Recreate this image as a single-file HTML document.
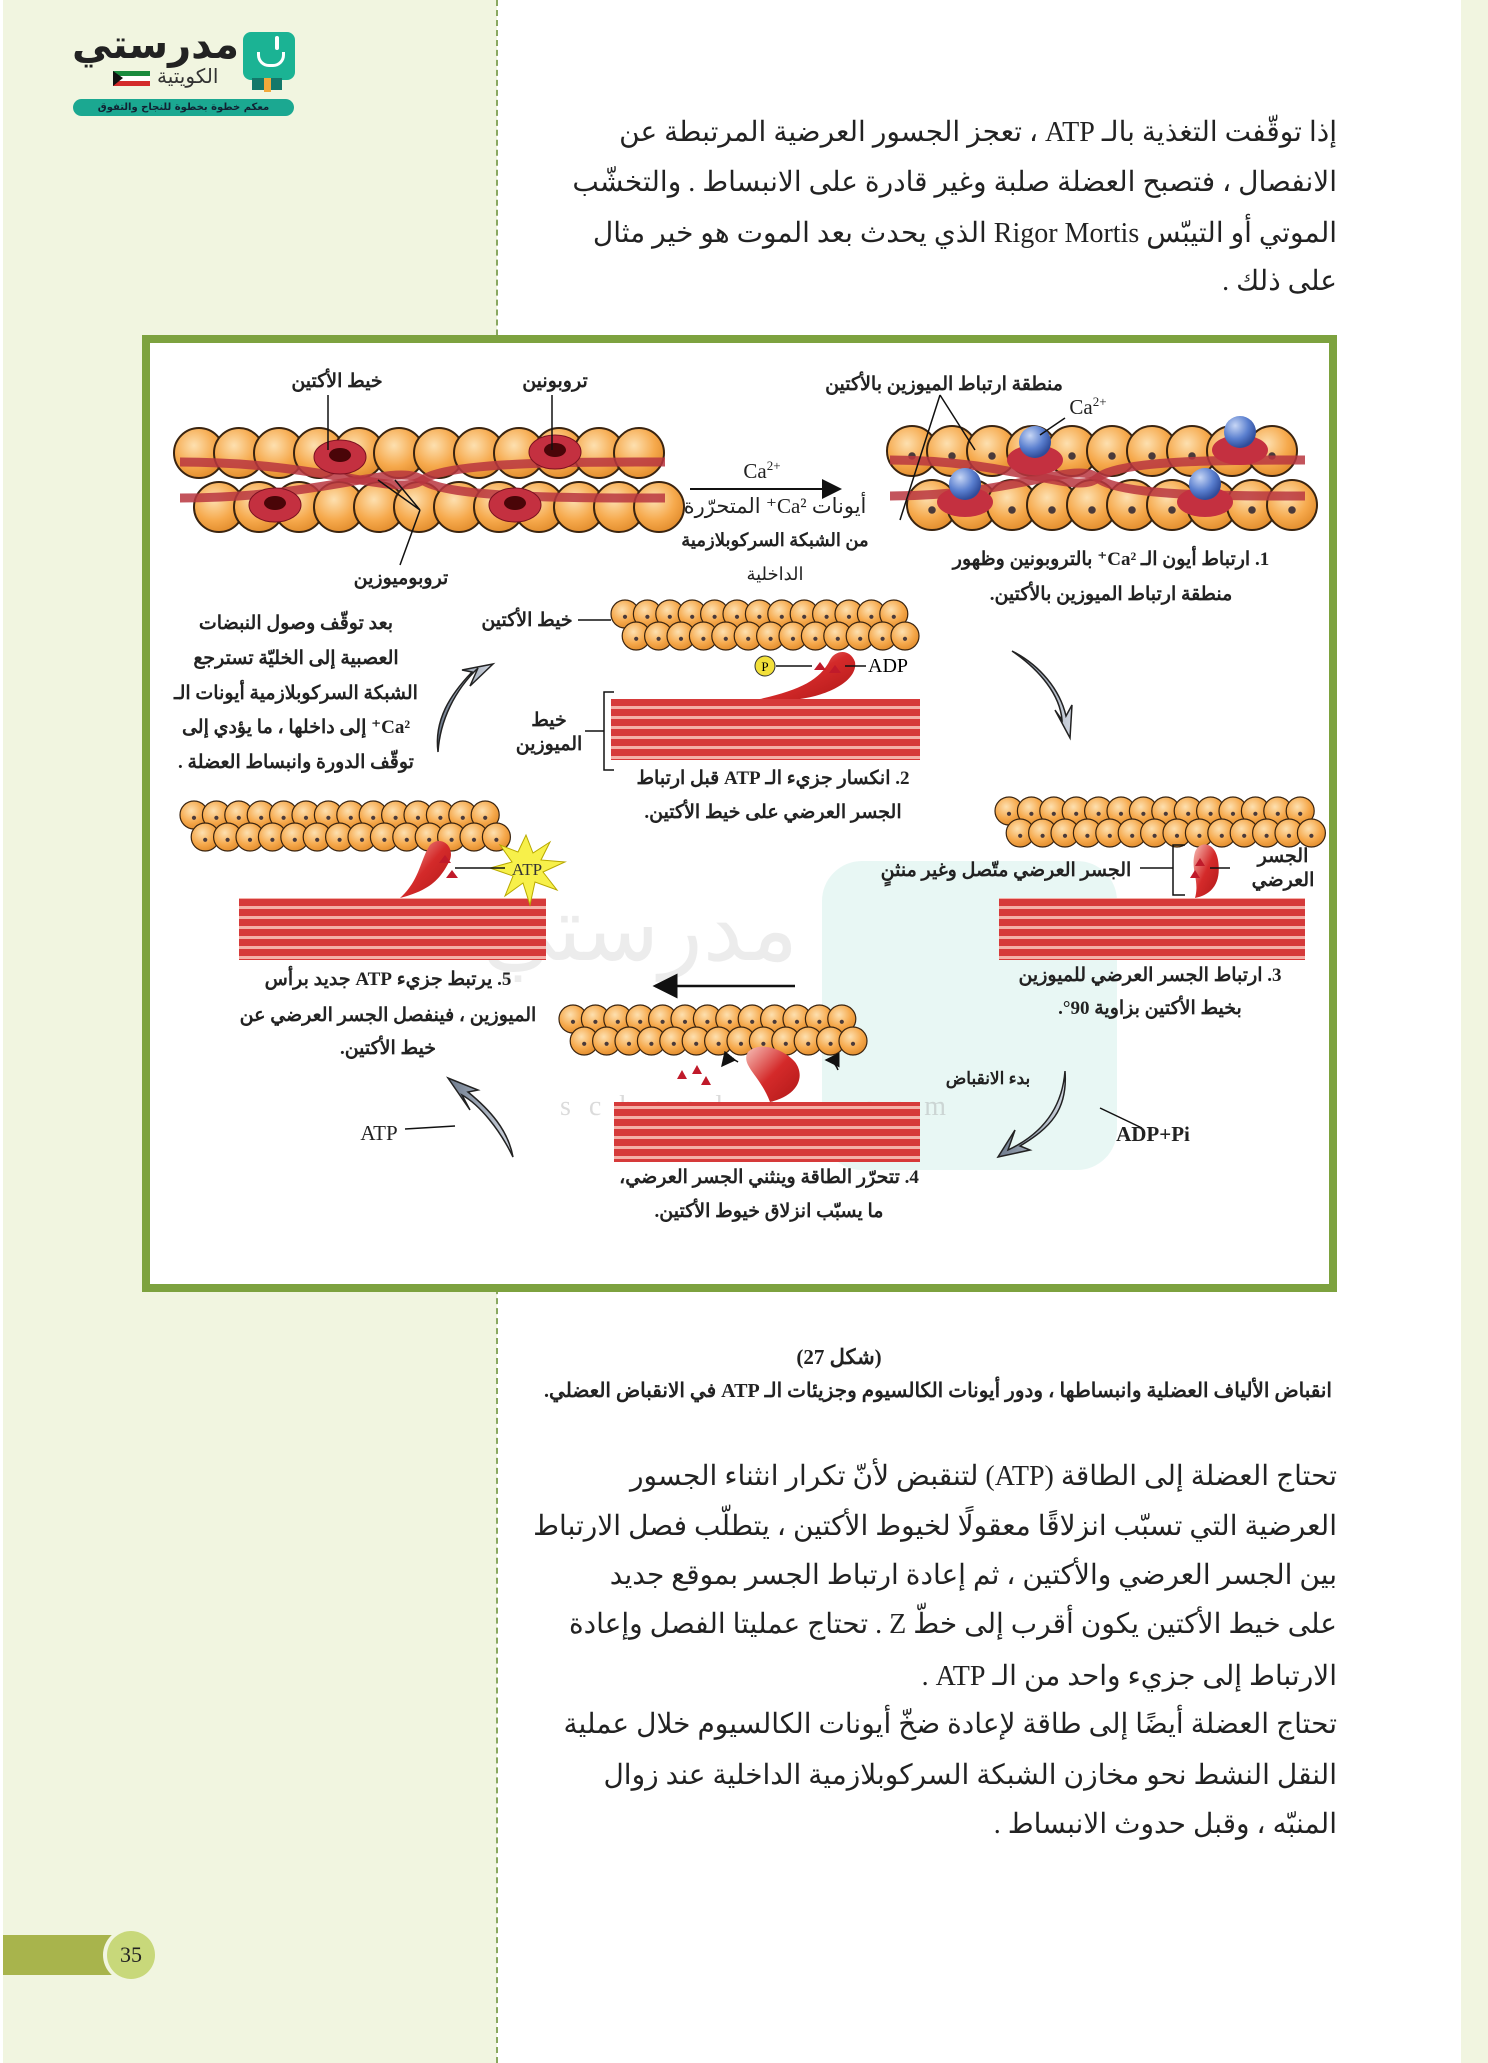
<!DOCTYPE html>
<html><head><meta charset="utf-8">
<style>
html,body{margin:0;padding:0}
body{width:1488px;height:2063px;position:relative;background:#fff;overflow:hidden;font-family:"Liberation Serif","Noto Serif CJK SC","DejaVu Serif",serif}
.t{position:absolute;direction:rtl;white-space:nowrap;color:#222}
.p{font-size:28px;right:151px}
svg text{font-family:"Liberation Serif","DejaVu Serif",serif}
</style></head><body>
<div style="position:absolute;left:3px;top:0;width:494px;height:2063px;background:#f1f5e0"></div>
<div style="position:absolute;left:496px;top:0;height:2063px;border-left:2px dashed #8aa860"></div>
<div style="position:absolute;left:1461px;top:0;width:27px;height:2063px;background:#f1f5e0"></div>

<!-- logo -->
<div style="position:absolute;left:243px;top:32px;width:52px;height:48px;background:#1bb394;border-radius:8px"></div>
<div style="position:absolute;left:252px;top:78px;width:30px;height:12px;background:#14786a"></div>
<div style="position:absolute;left:264px;top:78px;width:7px;height:14px;background:#f2a93b"></div>
<div style="position:absolute;left:275px;top:36px;width:4px;height:14px;background:#fff;border-radius:2px"></div>
<div style="position:absolute;left:257px;top:52px;width:22px;height:12px;border:3px solid #fff;border-top:none;border-radius:0 0 12px 12px"></div>
<div class="t" style="left:72px;top:22px;font:bold 40px 'DejaVu Sans',sans-serif;color:#222">مدرستي</div>
<div class="t" style="left:157px;top:64px;font:20px 'DejaVu Sans',sans-serif;color:#333">الكويتية</div>
<div style="position:absolute;left:113px;top:71px;width:37px;height:5px;background:#1a8a3e"></div>
<div style="position:absolute;left:113px;top:76px;width:37px;height:5px;background:#fff"></div>
<div style="position:absolute;left:113px;top:81px;width:37px;height:5px;background:#d32b2b"></div>
<div style="position:absolute;left:113px;top:71px;width:0;height:0;border-left:10px solid #111;border-top:7px solid transparent;border-bottom:8px solid transparent"></div>
<div style="position:absolute;left:73px;top:99px;width:221px;height:17px;background:#1ba891;border-radius:9px;font:bold 10px 'DejaVu Sans',sans-serif;color:#123;text-align:center;line-height:17px;direction:rtl">معكم خطوة بخطوة للنجاح والتفوق</div>

<!-- top paragraph -->
<div class="t p" style="top:115px">إذا توقّفت التغذية بالـ ATP ، تعجز الجسور العرضية المرتبطة عن</div>
<div class="t p" style="top:165px">الانفصال ، فتصبح العضلة صلبة وغير قادرة على الانبساط . والتخشّب</div>
<div class="t p" style="top:216px">الموتي أو التيبّس Rigor Mortis الذي يحدث بعد الموت هو خير مثال</div>
<div class="t p" style="top:264px">على ذلك .</div>

<!-- figure box -->
<div style="position:absolute;left:142px;top:335px;width:1179px;height:941px;border:8px solid #7da23f;background:#fff"></div>

<svg style="position:absolute;left:0;top:0" width="1488" height="2063" viewBox="0 0 1488 2063">
<defs>
<radialGradient id="og" cx="0.4" cy="0.35" r="0.7"><stop offset="0" stop-color="#fde0b0"/><stop offset="0.6" stop-color="#f6a94c"/><stop offset="1" stop-color="#e08a2a"/></radialGradient>
<radialGradient id="bg" cx="0.35" cy="0.3" r="0.7"><stop offset="0" stop-color="#c7d6f5"/><stop offset="0.6" stop-color="#5a7fcf"/><stop offset="1" stop-color="#2f4c9a"/></radialGradient>
<pattern id="my" width="10" height="10" patternUnits="userSpaceOnUse"><rect width="10" height="10" fill="#d63a3a"/><rect y="6" width="10" height="3" fill="#f4b0a8"/></pattern>
<linearGradient id="rh" x1="0" y1="0" x2="1" y2="1"><stop offset="0" stop-color="#f7c0b8"/><stop offset="0.5" stop-color="#d42a2a"/><stop offset="1" stop-color="#b01818"/></linearGradient>
<linearGradient id="ga" x1="0" y1="0" x2="1" y2="0"><stop offset="0" stop-color="#6d7a8c"/><stop offset="1" stop-color="#d0d6e0"/></linearGradient>
<marker id="ah" markerWidth="10" markerHeight="10" refX="9" refY="5" orient="auto"><path d="M0,0 L10,5 L0,10 z" fill="#111"/></marker>
</defs>

<!-- watermark -->
<rect x="822" y="861" width="295" height="309" rx="40" fill="#1bb394" opacity="0.1"/>
<text x="640" y="960" font-size="90" fill="#888" opacity="0.15" text-anchor="middle" font-family="DejaVu Sans" direction="rtl">مدرستي</text>
<text x="560" y="1115" font-size="28" fill="#999" opacity="0.35" letter-spacing="18" font-family="DejaVu Sans">school-kw.com</text>

<g id="fil"></g>

<!-- myosin blocks -->
<rect x="611" y="699" width="309" height="61" fill="url(#my)"/>
<rect x="999" y="898" width="306" height="62" fill="url(#my)"/>
<rect x="239" y="898" width="307" height="62" fill="url(#my)"/>
<rect x="614" y="1102" width="306" height="60" fill="url(#my)"/>
<!-- heads -->
<path d="M760,699 C800,690 820,680 830,660 C835,650 850,648 855,662 C858,680 830,695 800,699 z" fill="url(#rh)"/>
<path d="M1195,898 C1210,895 1222,885 1218,860 C1215,842 1200,840 1195,852 C1190,870 1200,880 1195,898 z" fill="url(#rh)"/>
<path d="M400,898 C430,890 440,880 450,860 C455,845 440,835 430,845 C420,860 420,880 400,898 z" fill="url(#rh)"/>
<path d="M770,1102 C800,1095 805,1075 795,1062 C785,1050 760,1040 748,1052 C740,1065 760,1075 770,1102 z" fill="url(#rh)"/>
<g fill="#c01a2a">
<path d="M820,662 l6,8 h-12z"/><path d="M835,665 l6,8 h-12z"/>
<path d="M1200,858 l5,8 h-10z"/><path d="M1195,870 l5,8 h-10z"/>
<path d="M445,855 l6,8 h-12z"/><path d="M452,870 l6,8 h-12z"/>
<path d="M682,1070 l5,9 h-10z"/><path d="M697,1065 l5,9 h-10z"/><path d="M706,1076 l5,9 h-10z"/>
</g>
<!-- ATP star -->
<polygon points="526,835 533,853 550,842 541,860 565,862 543,872 557,890 535,882 530,905 523,883 505,896 513,876 490,868 512,862 500,845 518,852" fill="#f7f04a" stroke="#b8a800" stroke-width="1"/>
<text x="527" y="875" font-size="17" text-anchor="middle" fill="#333">ATP</text>
<line x1="455" y1="868" x2="505" y2="868" stroke="#111" stroke-width="1.5"/>
<!-- P and ADP -->
<circle cx="765" cy="666" r="10" fill="#f2e03a" stroke="#333"/><text x="765" y="671" font-size="13" text-anchor="middle">P</text>
<line x1="776" y1="666" x2="812" y2="666" stroke="#111" stroke-width="1.5"/>
<line x1="845" y1="666" x2="866" y2="666" stroke="#111" stroke-width="1.5"/>
<text x="868" y="672" font-size="20">ADP</text>

<!-- brackets -->
<path d="M614,692 h-10 v78 h10" fill="none" stroke="#111" stroke-width="1.5"/>
<line x1="585" y1="731" x2="604" y2="731" stroke="#111" stroke-width="1.5"/>
<line x1="578" y1="620" x2="611" y2="620" stroke="#111" stroke-width="1.5"/>
<path d="M1185,845 h-12 v50 h12" fill="none" stroke="#111" stroke-width="1.5"/>
<line x1="1140" y1="868" x2="1173" y2="868" stroke="#111" stroke-width="1.5"/>
<line x1="1210" y1="868" x2="1230" y2="868" stroke="#111" stroke-width="1.5"/>

<!-- top straight lines -->
<line x1="328" y1="395" x2="328" y2="450" stroke="#111" stroke-width="1.5"/>
<line x1="552" y1="395" x2="552" y2="450" stroke="#111" stroke-width="1.5"/>
<path d="M400,565 L420,510 M420,510 L378,480 M420,510 L395,480" stroke="#111" stroke-width="1.5" fill="none"/>
<path d="M940,395 L900,520 M940,395 L975,450" stroke="#111" stroke-width="1.5" fill="none"/>
<line x1="1040" y1="435" x2="1065" y2="418" stroke="#111" stroke-width="1.5"/>

<!-- Ca arrow -->
<line x1="690" y1="489" x2="840" y2="489" stroke="#111" stroke-width="2" marker-end="url(#ah)"/>
<!-- left arrow middle -->
<line x1="795" y1="986" x2="655" y2="986" stroke="#111" stroke-width="2.5" marker-end="url(#ah)"/>

<!-- curved grey arrows -->
<path d="M438,752 C440,720 455,690 478,668 L470,686 L493,664 L462,670 L472,672 C450,695 434,720 438,752 z" fill="url(#ga)" stroke="#222" stroke-width="1.5"/>
<path d="M1012,651 C1040,670 1060,695 1062,720 L1055,710 L1070,738 L1072,705 L1066,716 C1060,690 1040,665 1012,651 z" fill="url(#ga)" stroke="#222" stroke-width="1.5"/>
<path d="M1065,1071 C1062,1110 1040,1135 1008,1150 L1015,1130 L998,1157 L1030,1150 L1020,1146 C1050,1128 1068,1110 1065,1071 z" fill="url(#ga)" stroke="#222" stroke-width="1.5"/>
<path d="M513,1157 C500,1130 480,1105 462,1095 L470,1110 L448,1078 L478,1090 L468,1092 C490,1110 508,1130 513,1157 z" fill="url(#ga)" stroke="#222" stroke-width="1.5"/>
<line x1="405" y1="1129" x2="455" y2="1126" stroke="#111" stroke-width="1.5"/>
<line x1="1100" y1="1108" x2="1142" y2="1128" stroke="#111" stroke-width="1.5"/>
<path d="M738,1062 q-8,-6 -16,4" fill="none" stroke="#111" stroke-width="1.5" marker-end="url(#ah)"/>
<path d="M838,1070 q-4,-10 -12,-10" fill="none" stroke="#111" stroke-width="1.5" marker-end="url(#ah)"/>

<!-- labels -->
<g font-size="19" font-weight="bold" text-anchor="middle" fill="#222" direction="rtl">
<text x="337" y="387">خيط الأكتين</text>
<text x="555" y="387">تروبونين</text>
<text x="401" y="584">تروبوميوزين</text>
<text x="944" y="390">منطقة ارتباط الميوزين بالأكتين</text>
<text x="1111" y="565">1. ارتباط أيون الـ Ca²⁺ بالتروبونين وظهور</text>
<text x="1111" y="600">منطقة ارتباط الميوزين بالأكتين.</text>
<text x="527" y="626">خيط الأكتين</text>
<text x="549" y="726">خيط</text>
<text x="549" y="750">الميوزين</text>
<text x="773" y="784">2. انكسار جزيء الـ ATP قبل ارتباط</text>
<text x="773" y="818">الجسر العرضي على خيط الأكتين.</text>
<text x="296" y="629">بعد توقّف وصول النبضات</text>
<text x="296" y="664">العصبية إلى الخليّة تسترجع</text>
<text x="296" y="699">الشبكة السركوبلازمية أيونات الـ</text>
<text x="296" y="733">Ca²⁺ إلى داخلها ، ما يؤدي إلى</text>
<text x="296" y="768">توقّف الدورة وانبساط العضلة .</text>
<text x="1006" y="876">الجسر العرضي متّصل وغير منثنٍ</text>
<text x="1283" y="862">الجسر</text>
<text x="1283" y="886">العرضي</text>
<text x="1150" y="981">3. ارتباط الجسر العرضي للميوزين</text>
<text x="1150" y="1014">بخيط الأكتين بزاوية 90°.</text>
<text x="388" y="985">5. يرتبط جزيء ATP جديد برأس</text>
<text x="388" y="1021">الميوزين ، فينفصل الجسر العرضي عن</text>
<text x="388" y="1054">خيط الأكتين.</text>
<text x="769" y="1183">4. تتحرّر الطاقة وينثني الجسر العرضي،</text>
<text x="769" y="1217">ما يسبّب انزلاق خيوط الأكتين.</text>
<text x="988" y="1084" font-size="17">بدء الانقباض</text>
</g>
<g font-size="21" text-anchor="middle" fill="#222">
<text x="762" y="478">Ca<tspan font-size="13" dy="-8">2+</tspan></text>
<text x="1088" y="414">Ca<tspan font-size="13" dy="-8">2+</tspan></text>
<text x="775" y="513" direction="rtl">أيونات Ca²⁺ المتحرّرة</text>
<text x="775" y="546" direction="rtl" font-size="18" font-weight="bold">من الشبكة السركوبلازمية</text>
<text x="775" y="580" direction="rtl" font-size="18">الداخلية</text>
<text x="379" y="1140">ATP</text>
<text x="1153" y="1141" font-weight="bold">ADP+Pi</text>
</g>
</svg>

<!-- caption -->
<div class="t" style="left:0;width:1488px;text-align:center;direction:rtl;top:1345px;font-size:21px;font-weight:bold;padding-left:190px;box-sizing:border-box">(شكل 27)</div>
<div class="t" style="right:156px;top:1378px;font-size:20px;font-weight:bold">انقباض الألياف العضلية وانبساطها ، ودور أيونات الكالسيوم وجزيئات الـ ATP في الانقباض العضلي.</div>

<!-- bottom paragraph -->
<div class="t p" style="top:1459px">تحتاج العضلة إلى الطاقة (ATP) لتنقبض لأنّ تكرار انثناء الجسور</div>
<div class="t p" style="top:1509px">العرضية التي تسبّب انزلاقًا معقولًا لخيوط الأكتين ، يتطلّب فصل الارتباط</div>
<div class="t p" style="top:1558px">بين الجسر العرضي والأكتين ، ثم إعادة ارتباط الجسر بموقع جديد</div>
<div class="t p" style="top:1607px">على خيط الأكتين يكون أقرب إلى خطّ Z . تحتاج عمليتا الفصل وإعادة</div>
<div class="t p" style="top:1659px">الارتباط إلى جزيء واحد من الـ ATP .</div>
<div class="t p" style="top:1707px">تحتاج العضلة أيضًا إلى طاقة لإعادة ضخّ أيونات الكالسيوم خلال عملية</div>
<div class="t p" style="top:1758px">النقل النشط نحو مخازن الشبكة السركوبلازمية الداخلية عند زوال</div>
<div class="t p" style="top:1807px">المنبّه ، وقبل حدوث الانبساط .</div>

<!-- page number -->
<div style="position:absolute;left:3px;top:1935px;width:110px;height:40px;background:#a8b44c"></div>
<div style="position:absolute;left:103px;top:1928px;width:54px;height:54px;border-radius:50%;background:#f1f5e0"></div>
<div style="position:absolute;left:107px;top:1931px;width:48px;height:48px;border-radius:50%;background:#c8d87a;text-align:center;line-height:48px;font-size:22px;color:#222">35</div>

<script>
(function(){
var ns="http://www.w3.org/2000/svg",g=document.getElementById("fil");
function el(n,a){var e=document.createElementNS(ns,n);for(var k in a)e.setAttribute(k,a[k]);g.appendChild(e);return e;}
function strand(x0,x1,yc,r,gap,dot){
 for(var row=0;row<2;row++){
  var y=yc+(row?gap:-gap);
  for(var x=x0+r;x<=x1-r+1;x+=r*1.6){
   el("circle",{cx:x+(row?r*0.8:0),cy:y,r:r,fill:"url(#og)",stroke:"#3a2410","stroke-width":r>15?2:1.2});
   if(dot)el("circle",{cx:x+(row?r*0.8:0),cy:y+r*0.2,r:r*0.15,fill:"#4a3a3a"});
  }
 }
}
function trop(x0,x1,yc,amp){
 el("path",{d:"M"+x0+","+(yc-amp)+" C"+(x0+(x1-x0)*0.3)+","+(yc-amp)+" "+(x0+(x1-x0)*0.45)+","+(yc+amp)+" "+(x0+(x1-x0)*0.5)+","+yc+" S"+(x1-(x1-x0)*0.2)+","+(yc-amp)+" "+x1+","+(yc-amp),fill:"none",stroke:"#b8363f","stroke-width":9,opacity:0.85});
 el("path",{d:"M"+x0+","+(yc+amp)+" C"+(x0+(x1-x0)*0.3)+","+(yc+amp)+" "+(x0+(x1-x0)*0.45)+","+(yc-amp)+" "+(x0+(x1-x0)*0.5)+","+yc+" S"+(x1-(x1-x0)*0.2)+","+(yc+amp)+" "+x1+","+(yc+amp),fill:"none",stroke:"#b8363f","stroke-width":9,opacity:0.85});
}
strand(174,670,480,25,27,false);trop(180,665,480,18);
[[340,457],[555,452],[275,505],[515,505]].forEach(function(p){el("ellipse",{cx:p[0],cy:p[1],rx:26,ry:17,fill:"#c43040",stroke:"#7a1020"});el("ellipse",{cx:p[0],cy:p[1]-2,rx:11,ry:7,fill:"#4a0508"});});
strand(887,1308,478,25,27,true);trop(890,1305,478,18);
[[1035,450],[1240,440],[965,492],[1205,492]].forEach(function(p){el("ellipse",{cx:p[0],cy:p[1]+10,rx:28,ry:15,fill:"#c43040"});el("circle",{cx:p[0],cy:p[1]-8,r:16,fill:"url(#bg)"});});
strand(611,927,625,14,11,true);
strand(995,1315,822,14,11,true);
strand(180,500,826,14,11,true);
strand(559,874,1030,14,11,true);
})();
</script>
</body></html>
